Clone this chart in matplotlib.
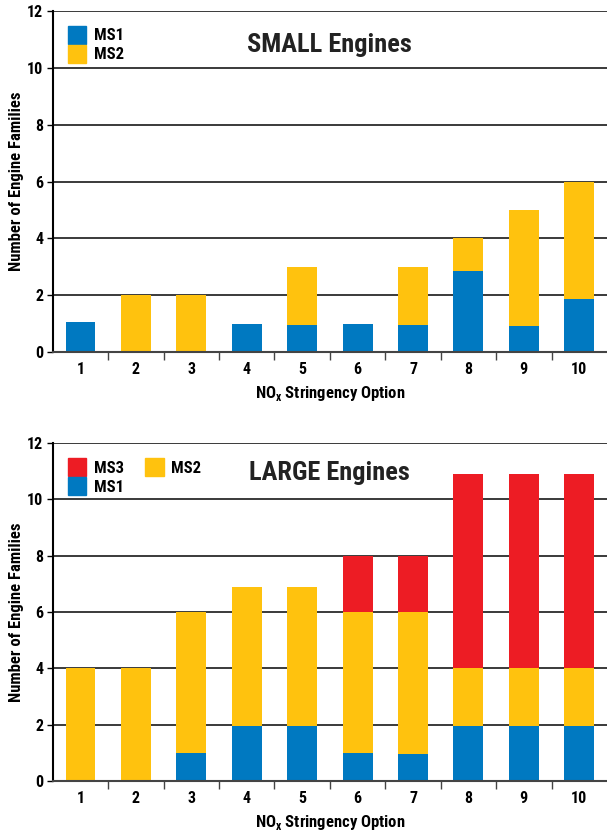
import matplotlib
matplotlib.use("Agg")
import matplotlib.pyplot as plt
from matplotlib.patches import Patch
from matplotlib.ticker import MultipleLocator
from matplotlib import font_manager
import numpy as np

names = {f.name for f in font_manager.fontManager.ttflist}
fam = [n for n in ['Liberation Sans Narrow', 'Roboto Condensed', 'Liberation Sans'] if n in names]
fam.append('DejaVu Sans')
plt.rcParams['font.family'] = fam
plt.rcParams['font.weight'] = 'bold'
plt.rcParams['axes.labelweight'] = 'bold'
plt.rcParams['mathtext.fontset'] = 'custom'
plt.rcParams['mathtext.rm'] = fam[0] + ':bold'
plt.rcParams['mathtext.bf'] = fam[0] + ':bold'

options = [1, 2, 3, 4, 5, 6, 7, 8, 9, 10]

# SMALL engines
small_ms1 = [1.05, 0, 0, 1.0, 0.97, 1.0, 0.97, 2.87, 0.93, 1.88]
small_ms2 = [0, 2.0, 2.0, 0, 2.03, 0, 2.03, 1.13, 4.07, 4.12]

# LARGE engines
large_ms1 = [0, 0, 1.0, 1.95, 1.95, 1.0, 0.95, 1.95, 1.95, 1.95]
large_ms2 = [4.0, 4.0, 5.0, 4.93, 4.93, 5.0, 5.05, 2.05, 2.05, 2.05]
large_ms3 = [0, 0, 0, 0, 0, 2.0, 2.0, 6.9, 6.9, 6.9]

blue = '#0079C1'
yellow = '#FFC20E'
red = '#ED1C24'

narrow = fam[0] != 'Liberation Sans'
fs_tick = 11.5 if narrow else 9.5
fs_lab = 12 if narrow else 10.5
fs_title = 19 if narrow else 16
fs_leg = 12 if narrow else 10.5

fig = plt.figure(figsize=(6.07, 8.31), dpi=100)
ax1 = fig.add_axes([0.087, 0.576, 0.913, 0.411])
ax2 = fig.add_axes([0.087, 0.060, 0.913, 0.407])


def style(ax):
    ax.set_xlim(0.5, 10.5)
    ax.set_ylim(0, 12)
    ax.yaxis.set_major_locator(MultipleLocator(2))
    ax.set_xticks(options)
    ax.set_xticks(np.arange(1.5, 10.5, 1), minor=True)
    ax.tick_params(axis='x', which='major', length=0, pad=7, labelsize=fs_tick)
    ax.tick_params(axis='x', which='minor', length=6, width=1, color='#444444')
    ax.tick_params(axis='y', length=4, width=1, pad=3, labelsize=fs_tick)
    ax.grid(axis='y', color='#3a3a3a', linewidth=1.4)
    ax.set_axisbelow(True)
    for s in ['top', 'right']:
        ax.spines[s].set_visible(False)
    ax.spines['left'].set_linewidth(1.5)
    ax.spines['bottom'].set_linewidth(1.5)
    ax.spines['bottom'].set_color('#444444')
    ax.set_xlabel('NO$_{\\mathrm{x}}$ Stringency Option', fontsize=fs_lab, labelpad=5)
    ax.set_ylabel('Number of Engine Families', fontsize=fs_lab, labelpad=2)


w = 0.54
ax1.bar(options, small_ms1, width=w, color=blue)
ax1.bar(options, small_ms2, width=w, bottom=small_ms1, color=yellow)
style(ax1)
ax1.text(0.5, 0.90, 'SMALL Engines', transform=ax1.transAxes, ha='center', va='center',
         fontsize=fs_title, fontweight='bold', color='#222222')
ax1.legend(handles=[Patch(color=blue, label='MS1'), Patch(color=yellow, label='MS2')],
           loc='upper left', bbox_to_anchor=(0.0, 1.0), frameon=False, fontsize=fs_leg,
           handlelength=1.1, handleheight=1.3, handletextpad=0.45, labelspacing=0.05,
           borderaxespad=0.5)

bottom3 = np.array(large_ms1) + np.array(large_ms2)
ax2.bar(options, large_ms1, width=w, color=blue)
ax2.bar(options, large_ms2, width=w, bottom=large_ms1, color=yellow)
ax2.bar(options, large_ms3, width=w, bottom=bottom3, color=red)
style(ax2)
ax2.text(0.5, 0.912, 'LARGE Engines', transform=ax2.transAxes, ha='center', va='center',
         fontsize=fs_title, fontweight='bold', color='#222222')
ax2.legend(handles=[Patch(color=red, label='MS3'), Patch(color=blue, label='MS1'),
                    Patch(color=yellow, label='MS2')],
           loc='upper left', bbox_to_anchor=(0.0, 1.0), frameon=False, fontsize=fs_leg, ncol=2,
           handlelength=1.1, handleheight=1.3, handletextpad=0.45, labelspacing=0.05,
           columnspacing=1.3, borderaxespad=0.5)

fig.savefig('out.png', dpi=100)
